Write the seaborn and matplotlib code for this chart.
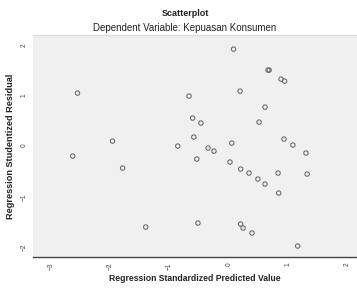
import matplotlib.pyplot as plt
import seaborn as sns
import pandas as pd

# Regression standardized predicted value (x) and studentized residual (y)
pred = [0.08, -2.55, 0.19, 0.66, 0.68, 0.88, 0.94, -0.67, 0.61, -0.61, -0.47,
        0.51, -0.59, 0.93, 1.08, 0.05, -0.35, -1.96, -0.86, -2.63, -1.79, -0.54,
        -1.40, -0.52, -0.25, 0.02, 0.20, 0.34, 0.49, 0.61, 0.83, 1.32, 0.84,
        0.20, 0.24, 0.39, 1.16, 1.30]
resid = [1.94, 1.06, 1.10, 1.52, 1.52, 1.34, 1.30, 1.00, 0.78, 0.56, 0.46,
         0.48, 0.18, 0.14, 0.02, 0.06, -0.04, 0.10, 0.00, -0.20, -0.44, -0.26,
         -1.62, -1.54, -0.10, -0.32, -0.46, -0.54, -0.66, -0.76, -0.54, -0.56,
         -0.94, -1.56, -1.64, -1.74, -2.00, -0.14]

df = pd.DataFrame({"pred": pred, "resid": resid})

sns.set_style("white")
plt.rcParams['font.family'] = ['Liberation Sans', 'DejaVu Sans']

fig = plt.figure(figsize=(3.57, 2.88), dpi=100)
ax = fig.add_axes([0.0924, 0.1076, 0.9076, 0.7704])
ax.set_facecolor('#f0f0f0')

sns.scatterplot(data=df, x='pred', y='resid', ax=ax, s=10, marker='o',
                facecolor='none', edgecolor='#666666', linewidth=0.75)

ax.set_xlim(-3.3, 2.16)
ax.set_ylim(-2.22, 2.22)
ax.set_xticks([-3, -2, -1, 0, 1, 2])
ax.set_yticks([-2, -1, 0, 1, 2])
ax.tick_params(axis='both', labelsize=4.8, colors='#333333', length=2.5, width=0.6,
               labelcolor='#444444', pad=1.5)
ax.tick_params(axis='x', labelrotation=90)
ax.tick_params(axis='y', labelrotation=90)

for side in ['left', 'right']:
    ax.spines[side].set_visible(False)
ax.spines['top'].set_color('#dddddd')
ax.spines['top'].set_linewidth(1.0)
ax.spines['bottom'].set_color('#444444')
ax.spines['bottom'].set_linewidth(1.0)

ax.set_xlabel('Regression Standardized Predicted Value', fontsize=6.2,
              fontweight='bold', color='#222222', labelpad=3)
ax.set_ylabel('Regression Studentized Residual', fontsize=6.6,
              fontweight='bold', color='#222222', labelpad=4)

cx = 185 / 357
fig.text(cx, 1 - 13 / 288, 'Scatterplot', ha='center', va='center',
         fontsize=6.5, fontweight='bold', color='#222222')
fig.text(cx, 1 - 28 / 288, 'Dependent Variable: Kepuasan Konsumen',
         ha='center', va='center', fontsize=7, color='#222222')

fig.savefig('out.png', dpi=100)
